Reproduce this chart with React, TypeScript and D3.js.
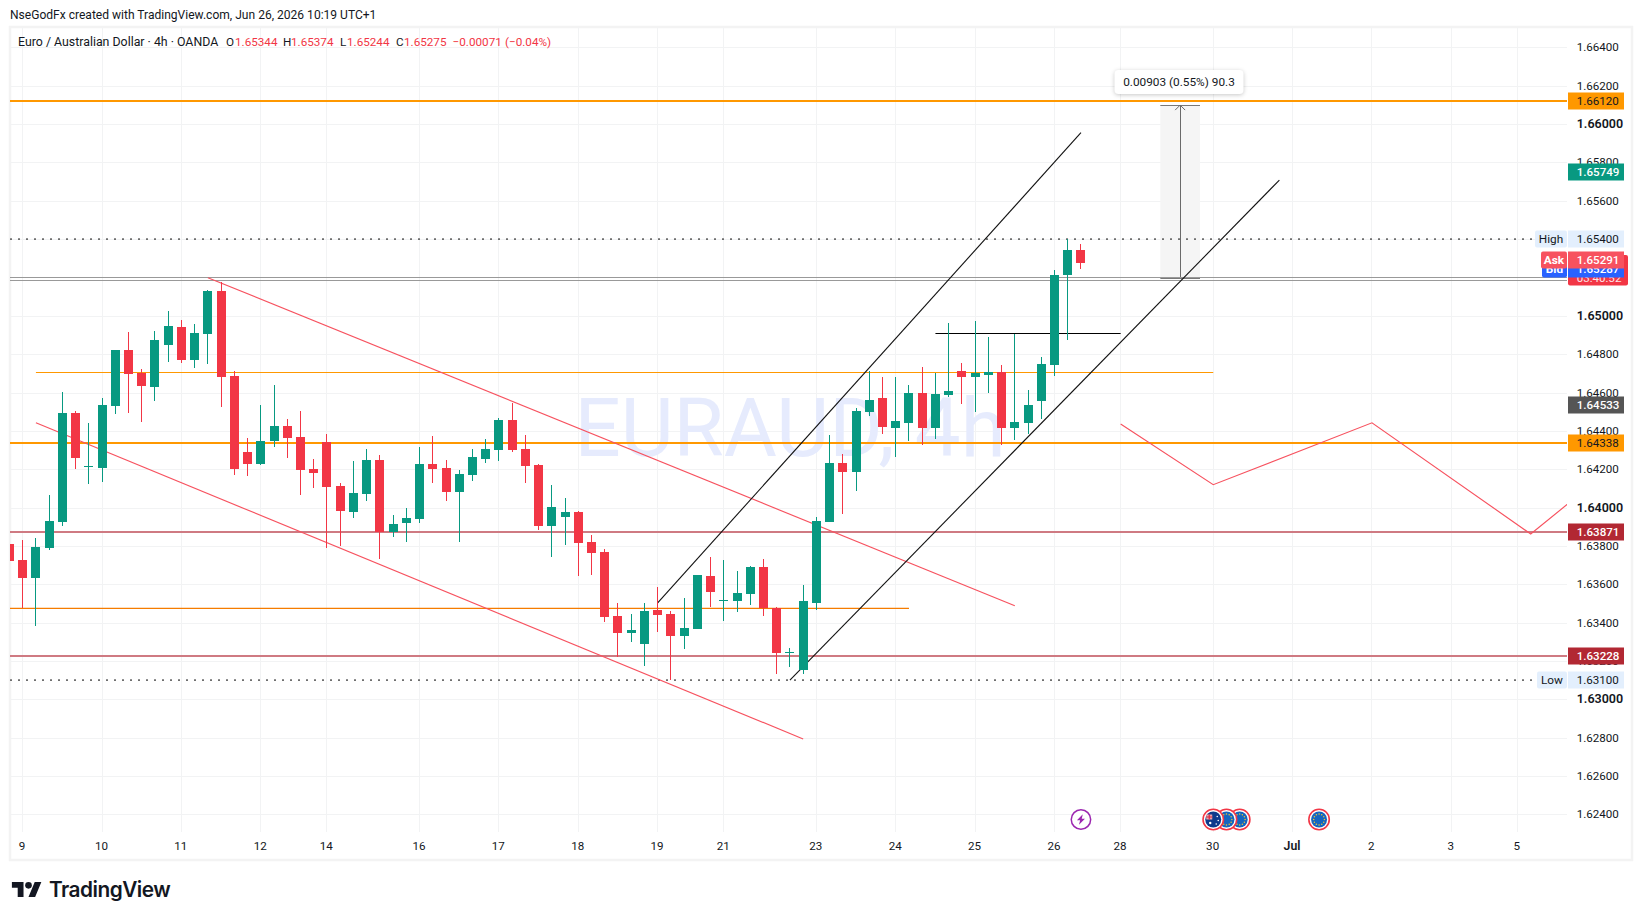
import React from "react";
import * as d3 from "d3";

// ---- candle data (first bar is index -1, partly cut by the left edge)
const opens = [1.6381,1.63726,1.63632,1.63789,1.63924,1.64493,1.64211,1.64206,1.6453,1.64822,1.64702,1.64629,1.64848,1.64942,1.6477,1.64905,1.65129,1.64686,1.6429,1.64227,1.64347,1.64425,1.64368,1.64201,1.64342,1.64112,1.63977,1.64071,1.64248,1.63872,1.63919,1.6394,1.64227,1.64206,1.64081,1.6417,1.64253,1.643,1.64457,1.64305,1.64222,1.63904,1.63951,1.63977,1.6382,1.63768,1.63434,1.63345,1.63288,1.63465,1.63445,1.6333,1.63366,1.63643,1.63512,1.63512,1.63549,1.6369,1.63476,1.63241,1.63152,1.63502,1.63924,1.64232,1.64185,1.64498,1.64571,1.64415,1.64441,1.64597,1.64415,1.64587,1.64712,1.64681,1.64691,1.64707,1.64415,1.64441,1.64556,1.64743,1.65213,1.65344];
const highs = [1.6381,1.63831,1.63841,1.64065,1.64603,1.64503,1.64441,1.64571,1.64822,1.64916,1.64723,1.64921,1.65025,1.64978,1.64957,1.65135,1.65176,1.64712,1.64363,1.64535,1.64639,1.64462,1.64503,1.64253,1.64384,1.64128,1.64243,1.64305,1.64274,1.63961,1.63998,1.64316,1.64373,1.64248,1.64196,1.64305,1.64357,1.64467,1.64545,1.64378,1.64227,1.64117,1.6405,1.63982,1.63857,1.63784,1.63502,1.63445,1.63502,1.63585,1.6346,1.63528,1.63648,1.63742,1.63726,1.63669,1.63695,1.63731,1.63481,1.63267,1.63596,1.63951,1.64378,1.64279,1.64519,1.64712,1.64681,1.64681,1.64639,1.64733,1.64702,1.64963,1.64754,1.64973,1.6489,1.64743,1.64905,1.64613,1.64785,1.65239,1.654,1.65374];
const lows = [1.63721,1.63474,1.63382,1.63778,1.63904,1.64201,1.64123,1.64133,1.64488,1.64493,1.64446,1.64556,1.64759,1.64754,1.64728,1.64749,1.64524,1.6417,1.64164,1.64222,1.64316,1.64258,1.64065,1.64102,1.63789,1.63799,1.63945,1.64034,1.63731,1.63846,1.6382,1.63919,1.64128,1.64034,1.6382,1.64138,1.64232,1.64243,1.6429,1.64128,1.63883,1.63742,1.63804,1.63643,1.63648,1.63403,1.6322,1.63299,1.63173,1.63351,1.631,1.63262,1.63366,1.63481,1.63408,1.63455,1.63492,1.63434,1.63132,1.63168,1.63132,1.63465,1.63924,1.63966,1.64086,1.64477,1.64384,1.64264,1.64347,1.64326,1.64357,1.64577,1.6454,1.64498,1.64597,1.64326,1.64352,1.64384,1.64462,1.64686,1.64874,1.65244];
const closes = [1.63721,1.63632,1.63794,1.6393,1.64493,1.64258,1.64217,1.64535,1.64822,1.64697,1.64634,1.64874,1.64947,1.6477,1.6491,1.65129,1.64681,1.64201,1.64227,1.64347,1.64425,1.64363,1.64196,1.6418,1.64107,1.63982,1.64076,1.64248,1.63872,1.63914,1.63945,1.64227,1.64201,1.64081,1.64175,1.64264,1.64305,1.64457,1.643,1.64217,1.63904,1.64003,1.63977,1.63815,1.63763,1.63429,1.63345,1.63361,1.6346,1.63439,1.6333,1.63372,1.63648,1.63559,1.63518,1.63554,1.6369,1.63476,1.63241,1.63246,1.63512,1.6393,1.64232,1.64185,1.64503,1.64561,1.6442,1.64451,1.64597,1.64415,1.64592,1.64608,1.64681,1.64702,1.64707,1.64415,1.64446,1.64535,1.64749,1.65213,1.65344,1.65275];

// ---- axes
const priceTicks = [1.664,1.662,1.66,1.658,1.656,1.654,1.652,1.65,1.648,1.646,1.644,1.642,1.64,1.638,1.636,1.634,1.632,1.63,1.628,1.626,1.624];
const boldPrices = [1.66,1.65,1.64,1.63];
const timeBars = [0,6,12,18,23,30,36,42,48,53,60,66,72,78,83,90,96,102,108,113];
const timeLabels = ["9","10","11","12","14","16","17","18","19","21","23","24","25","26","28","30","Jul","2","3","5"];

// ---- drawings: bar index and price
const pinkUpper = [[14,1.65199],[75,1.63488]];
const pinkLower = [[1,1.64442],[59,1.62793]];
const blackUpper = [[48,1.63503],[80,1.65955]];
const blackLower = [[58,1.631],[95,1.65708]];
const projection = [[83,1.64436],[90,1.64119],[102,1.64442],[114,1.63862],[117,1.6403]];
const measureBars = [86,89];
const measurePrices = [1.65196,1.66099];
const thinOrange = [[1,1.64705],[90,1.64705]];
const midOrange = [[-2,1.63474],[67,1.63474]];
const blackLevel = [[69,1.64909],[83,1.64909]];
const greyLevels = [1.65199,1.65185];
const thickOrange = [1.6612,1.64338];
const redLevels = [1.63871,1.63228];
const dottedLevels = [1.654,1.631];
const ausEvents = [90];
const eurEvents = [92,91,98];
const boltEvents = [80];

const W = 1643, H = 920;
const L = 10, R = 1567, T = 27, B = 832;
const FONT = "Roboto, sans-serif";
const GREEN = "#089981", RED = "#f23645", INK = "#131722", ORANGE = "#ff9800";

const x = d3.scaleLinear().domain([0, 78]).range([22.7, 1054.5]);
const y = d3.scaleLinear().domain([1.624, 1.664]).range([814.3, 47.4]);
const px = (b: number) => Math.floor(x(b));
const line = d3.line<number[]>().x(d => x(d[0])).y(d => y(d[1]));

function PriceTag({ price, bg, fg, text, weight = 400 }: { price: number; bg: string; fg: string; text: string; weight?: number }) {
  const c = Math.round(y(price));
  return (
    <g>
      <rect x={1568} y={c - 8.5} width={56} height={17} fill={bg} />
      <text x={1576.7} y={c + 4.2} fontSize={11.6} fontWeight={weight} fill={fg}>{text}</text>
    </g>
  );
}

function SideTag({ price, left, bg, fg, text, weight = 400 }: { price: number; left: number; bg: string; fg: string; text: string; weight?: number }) {
  const c = Math.round(y(price));
  return (
    <g>
      <rect x={left} y={c - 8.5} width={1567 - left} height={17} rx={2} fill={bg} />
      <text x={(left + 1567) / 2} y={c + 4.2} textAnchor="middle" fontSize={11.8} fontWeight={weight} fill={fg}>{text}</text>
    </g>
  );
}

function EventRing({ cx, cy, children }: { cx: number; cy: number; children: React.ReactNode }) {
  return (
    <g transform={`translate(${cx},${cy})`}>
      <circle r={10.2} fill="#fff" stroke={RED} strokeWidth={1.6} />
      {children}
    </g>
  );
}

export default function App() {
  const candles = opens.map((o, i) => ({ bar: i - 1, o, h: highs[i], l: lows[i], c: closes[i] }));
  return (
    <svg width={W} height={H} viewBox={`0 0 ${W} ${H}`} fontFamily={FONT}
      style={{ position: "absolute", left: 0, top: 0, background: "#fff", display: "block" }}>
      <defs>
        <clipPath id="plot"><rect x={L} y={T} width={R - L} height={B - T + 1} /></clipPath>
      </defs>

      <text x={10} y={19} fontSize={12.05} fill={INK}>NseGodFx created with TradingView.com, Jun 26, 2026 10:19 UTC+1</text>

      <rect x={10} y={27} width={1622} height={833} fill="none" stroke="#f3f3f3" strokeWidth={2.5} />

      <g shapeRendering="crispEdges" stroke="#f2f3f4" strokeWidth={1}>
        {timeBars.map(b => <line key={b} x1={px(b) + 0.5} x2={px(b) + 0.5} y1={T} y2={B} />)}
        {priceTicks.map(p => <line key={p} x1={L} x2={R} y1={Math.round(y(p)) + 0.5} y2={Math.round(y(p)) + 0.5} />)}
      </g>

      <text x={790} y={456} textAnchor="middle" fontSize={81.5} fill="#e6ebfd" fontFamily={FONT} fontWeight={400}>EURAUD, 4h</text>

      <g clipPath="url(#plot)">
        <rect x={x(measureBars[0])} width={x(measureBars[1]) - x(measureBars[0])} y={y(measurePrices[1])} height={y(measurePrices[0]) - y(measurePrices[1])} fill="#f5f5f5" />
        {measurePrices.map(p => (
          <line key={p} x1={x(measureBars[0])} x2={x(measureBars[1])} y1={Math.floor(y(p)) + 0.5} y2={Math.floor(y(p)) + 0.5} stroke="#787878" strokeWidth={1} />
        ))}
        <line x1={Math.floor(x(87.5)) + 0.5} x2={Math.floor(x(87.5)) + 0.5} y1={y(measurePrices[0])} y2={y(measurePrices[1])} stroke="#6a6a6a" strokeWidth={1} />
        <path d={`M${x(87.5) - 5},${y(measurePrices[1]) + 5}L${x(87.5)},${y(measurePrices[1])}L${x(87.5) + 5},${y(measurePrices[1]) + 5}`} fill="none" stroke="#6a6a6a" strokeWidth={1} />

        {dottedLevels.map(p => (
          <line key={p} x1={L} x2={R} y1={y(p)} y2={y(p)} stroke="#6f6f6f" strokeWidth={1.6} strokeDasharray="2 6" />
        ))}
        {greyLevels.map(p => (
          <line key={p} x1={L} x2={R} y1={Math.floor(y(p)) + 0.5} y2={Math.floor(y(p)) + 0.5} stroke="#999999" strokeWidth={1} shapeRendering="crispEdges" />
        ))}
        <line x1={x(thinOrange[0][0])} x2={x(thinOrange[1][0])} y1={Math.floor(y(thinOrange[0][1])) + 0.5} y2={Math.floor(y(thinOrange[1][1])) + 0.5} stroke={ORANGE} strokeWidth={1} />
        <line x1={x(midOrange[0][0])} x2={x(midOrange[1][0])} y1={y(midOrange[0][1])} y2={y(midOrange[1][1])} stroke="#f57c00" strokeWidth={1.3} />
        {redLevels.map(p => <line key={p} x1={L} x2={R} y1={Math.round(y(p))} y2={Math.round(y(p))} stroke="#cf7a82" strokeWidth={2} />)}
        {thickOrange.map(p => <line key={p} x1={L} x2={R} y1={Math.round(y(p))} y2={Math.round(y(p))} stroke={ORANGE} strokeWidth={2} />)}

        {[pinkUpper, pinkLower, projection].map((pts, i) => (
          <path key={i} d={line(pts) as string} fill="none" stroke="#f7525f" strokeWidth={1.15} />
        ))}
        {[blackUpper, blackLower].map((pts, i) => (
          <path key={i} d={line(pts) as string} fill="none" stroke="#111" strokeWidth={1.1} />
        ))}
        <line x1={x(blackLevel[0][0])} x2={x(blackLevel[1][0])} y1={Math.floor(y(blackLevel[0][1])) + 0.5} y2={Math.floor(y(blackLevel[1][1])) + 0.5} stroke="#000" strokeWidth={1} />

        <g shapeRendering="crispEdges">
          {candles.map(d => {
            const col = d.c >= d.o ? GREEN : RED;
            const top = Math.round(y(Math.max(d.o, d.c)));
            const bot = Math.round(y(Math.min(d.o, d.c)));
            return (
              <g key={d.bar} fill={col}>
                <rect x={px(d.bar)} y={y(d.h)} width={1} height={y(d.l) - y(d.h)} />
                <rect x={px(d.bar) - 4} y={top} width={9} height={Math.max(1, bot - top)} />
              </g>
            );
          })}
        </g>

        {eurEvents.map(b => (
          <EventRing key={b} cx={x(b)} cy={819.5}>
            <circle r={8} fill="#1565c0" />
            {d3.range(12).map(k => (
              <circle key={k} cx={5.4 * Math.cos((k * Math.PI) / 6)} cy={5.4 * Math.sin((k * Math.PI) / 6)} r={0.75} fill="#f4c430" />
            ))}
          </EventRing>
        ))}
        {ausEvents.map(b => (
          <EventRing key={b} cx={x(b)} cy={819.5}>
            <circle r={8} fill="#0d3a8c" />
            <path d="M-7,-5 L-1,-5 L-1,0 L-7,0 Z" fill="#e8a0a8" />
            <path d="M-7,-2.5 L-1,-2.5 M-4,-5 L-4,0" stroke="#d8253a" strokeWidth={1.2} />
            <circle cx={-3} cy={3.5} r={1.2} fill="#fff" />
            <circle cx={4} cy={-3} r={0.8} fill="#fff" />
            <circle cx={5} cy={1} r={0.8} fill="#fff" />
            <circle cx={3} cy={4.5} r={0.8} fill="#fff" />
          </EventRing>
        ))}
        {boltEvents.map(b => (
          <g key={b} transform={`translate(${x(b)},819.5)`}>
            <circle r={9.7} fill="#fff" stroke="#9c27b0" strokeWidth={1.5} />
            <path d="M1.8,-5.2 L-4,0.8 L-0.8,0.8 L-2,5.2 L4,-0.8 L0.8,-0.8 Z" fill="#9c27b0" />
          </g>
        ))}
      </g>

      <g fontSize={11.7} fill={INK}>
        <text x={18} y={45.5} fontSize={12.35}>Euro / Australian Dollar · 4h · OANDA</text>
        <text x={226} y={45.5}>O</text>
        <text x={235} y={45.5} fill={RED}>1.65344</text>
        <text x={283} y={45.5}>H</text>
        <text x={291} y={45.5} fill={RED}>1.65374</text>
        <text x={340} y={45.5}>L</text>
        <text x={347} y={45.5} fill={RED}>1.65244</text>
        <text x={396} y={45.5}>C</text>
        <text x={404} y={45.5} fill={RED}>1.65275</text>
        <text x={452.6} y={45.5} fill={RED}>−0.00071</text>
        <text x={505} y={45.5} fill={RED}>(−0.04%)</text>
      </g>

      <g>
        <rect x={1114.5} y={70} width={129} height={24} rx={4} fill="#fff" style={{ filter: "drop-shadow(0 1px 2px rgba(0,0,0,0.22))" }} />
        <text x={1179} y={86} textAnchor="middle" fontSize={11.8} fill={INK}>0.00903 (0.55%) 90.3</text>
      </g>

      <g>
        {priceTicks.map(p => {
          const bold = boldPrices.includes(p);
          return (
            <text key={p} x={1576.7} y={Math.round(y(p)) + 4.2} fontSize={bold ? 12.5 : 11.6} fontWeight={bold ? 600 : 400} fill={INK}>
              {p.toFixed(5)}
            </text>
          );
        })}
      </g>

      <g>
        {timeBars.map((b, i) => (
          <text key={b} x={x(b) - 0.6} y={849.5} textAnchor="middle" fontSize={timeLabels[i] === "Jul" ? 12.3 : 11.6}
            fontWeight={timeLabels[i] === "Jul" ? 600 : 400} fill={INK}>{timeLabels[i]}</text>
        ))}
      </g>

      <PriceTag price={1.6612} bg={ORANGE} fg={INK} text="1.66120" />
      <PriceTag price={1.65749} bg={GREEN} fg="#fff" text="1.65749" weight={500} />
      <PriceTag price={1.64533} bg="#555555" fg="#fff" text="1.64533" weight={500} />
      <PriceTag price={1.64338} bg={ORANGE} fg={INK} text="1.64338" />
      <PriceTag price={1.63871} bg="#b22833" fg="#fff" text="1.63871" weight={500} />
      <PriceTag price={1.63228} bg="#b22833" fg="#fff" text="1.63228" weight={500} />
      <SideTag price={1.654} left={1535} bg="#e3effd" fg={INK} text="High" />
      <PriceTag price={1.654} bg="#e3effd" fg={INK} text="1.65400" />
      <SideTag price={1.631} left={1537} bg="#e3effd" fg={INK} text="Low" />
      <PriceTag price={1.631} bg="#e3effd" fg={INK} text="1.63100" />

      <rect x={1568} y={255} width={60} height={30.5} rx={2} fill={RED} />
      <text x={1576.7} y={282} fontSize={11.6} fill="#fde3e6">03:40:52</text>
      <SideTag price={1.65243} left={1542} bg="#2962ff" fg="#fff" text="Bid" weight={700} />
      <PriceTag price={1.65243} bg="#2962ff" fg="#fff" text="1.65287" weight={500} />
      <SideTag price={1.65291} left={1541} bg="#f7525f" fg="#fff" text="Ask" weight={700} />
      <PriceTag price={1.65291} bg="#f7525f" fg="#fff" text="1.65291" weight={500} />

      <g transform="translate(11.9,878.7) scale(0.83)" fill="#131722">
        <path d="M14 22H7V11H0V4h14v18zM28 22h-8l7.5-18h8L28 22z" />
        <circle cx={20} cy={8} r={4} />
      </g>
      <text x={49} y={897} fontSize={20.8} fontWeight={600} fontFamily="Inter, Roboto, sans-serif" fill="#131722" letterSpacing={-0.5}>TradingView</text>
    </svg>
  );
}
